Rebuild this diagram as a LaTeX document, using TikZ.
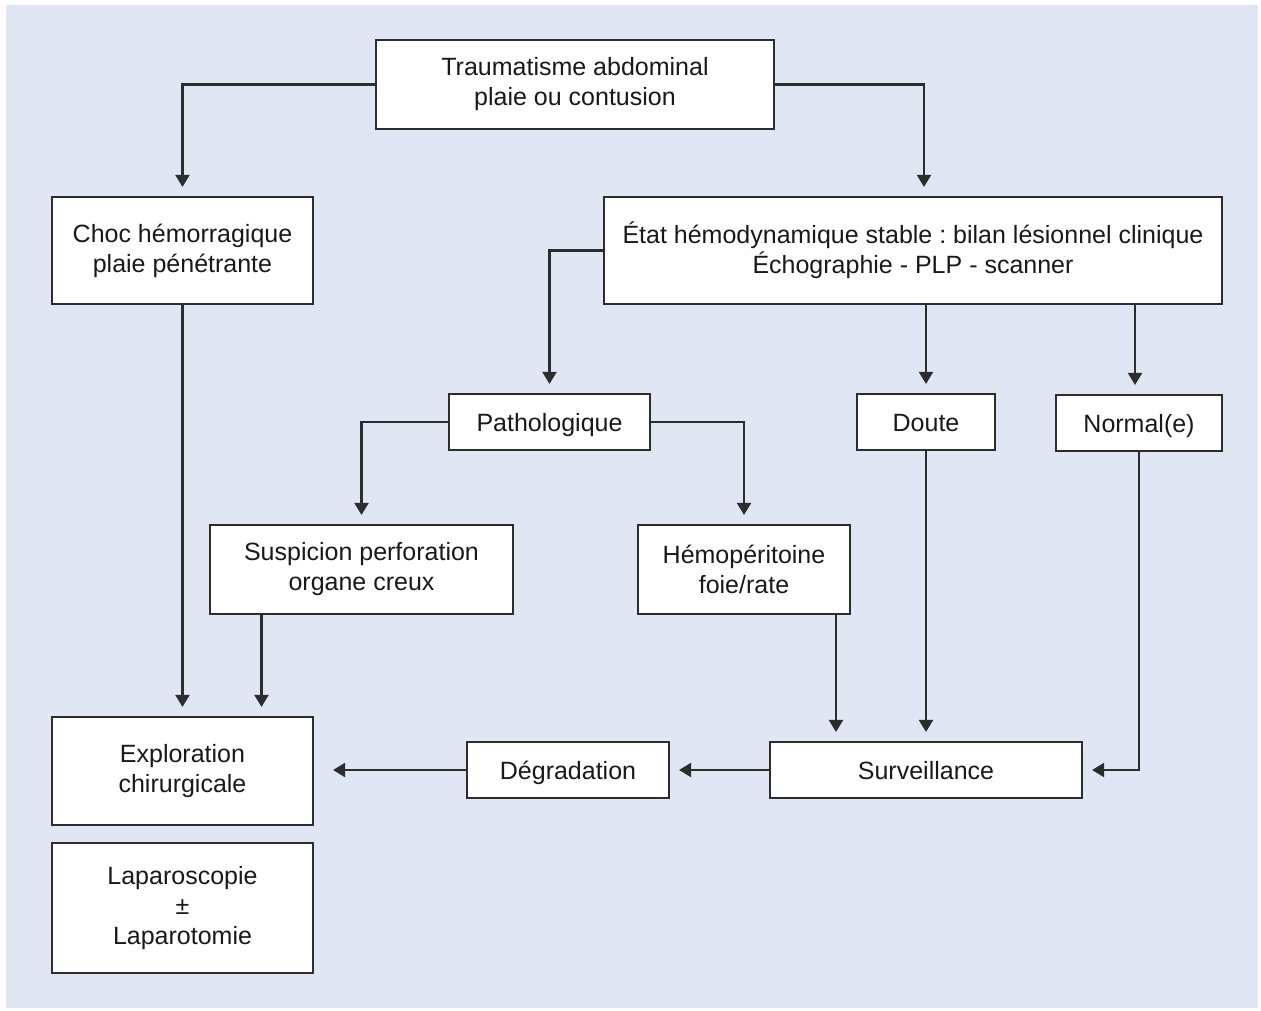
\documentclass[tikz,border=0pt]{standalone}
\usepackage{fontspec}
\setmainfont{Liberation Sans}
\usepackage{xcolor}
\usepackage{tikz}
\usetikzlibrary{arrows.meta}
\definecolor{panelblue}{RGB}{224,230,243}
\definecolor{linegray}{RGB}{45,45,45}
\tikzset{box/.style={draw=linegray, line width=2.1pt, fill=white, align=center, inner sep=0pt, text=black!90, font=\fontsize{25}{30}\selectfont}, sbox/.style={box, text height=18pt, text depth=0pt}, arr/.style={draw=linegray, line width=2.1pt, -{Triangle[width=14pt,length=12pt]}, shorten >=9pt}}
\frenchspacing

\begin{document}
\begin{tikzpicture}[x=1pt, y=-1pt]
\useasboundingbox (0, 0) rectangle (1261, 1010);
 \fill[panelblue] (6, 5) rectangle (1258, 1008);
 \node[box, minimum width=398pt, minimum height=89pt] (trauma) at (575, 84.5) {Traumatisme abdominal\\plaie ou contusion};
 \node[box, minimum width=261pt, minimum height=107pt] (choc) at (182.5, 250.5) {Choc hémorragique\\plaie pénétrante};
 \node[box, minimum width=618pt, minimum height=107pt] (etat) at (913, 250.5) {État hémodynamique stable : bilan lésionnel clinique\\Échographie - PLP - scanner};
 \node[sbox, minimum width=201pt, minimum height=56pt] (patho) at (549.5, 422) {Pathologique};
 \node[sbox, minimum width=138pt, minimum height=56pt] (doute) at (926, 422) {Doute};
 \node[sbox, minimum width=166pt, minimum height=56pt] (normal) at (1139, 423) {Normal(e)};
 \node[box, minimum width=303pt, minimum height=89pt] (susp) at (361.5, 569.5) {Suspicion perforation\\organe creux};
 \node[box, minimum width=212pt, minimum height=89pt] (hemo) at (744, 569.5) {Hémopéritoine\\foie/rate};
 \node[box, minimum width=261pt, minimum height=108pt] (explo) at (182.5, 771) {Exploration\\chirurgicale};
 \node[box, minimum width=261pt, minimum height=130pt] (lapa) at (182.5, 908) {Laparoscopie\\±\\Laparotomie};
 \node[sbox, minimum width=202pt, minimum height=56pt] (degr) at (568, 770) {Dégradation};
 \node[sbox, minimum width=312pt, minimum height=56pt] (surv) at (926, 770) {Surveillance};
  \draw[arr] (trauma.west) -| (choc.north);
  \draw[arr] (trauma.east) -| ([xshift=11pt]etat.north);
  \draw[arr] (choc.south) -- (explo.north);
  \draw[arr] ([xshift=-100pt]susp.south) -- ([xshift=-100pt]susp.south |- explo.north);
  \draw[arr] (etat.west) -| (patho.north);
  \draw[arr] (doute.north |- etat.south) -- (doute.north);
  \draw[arr] ([xshift=-4pt]normal.north |- etat.south) -- ([xshift=-4pt]normal.north);
  \draw[arr] (patho.west) -| (susp.north);
  \draw[arr] (patho.east) -| (hemo.north);
  \draw[arr] ([xshift=92pt]hemo.south) -- ([xshift=92pt]hemo.south |- surv.north);
  \draw[arr] (doute.south) -- (doute.south |- surv.north);
  \draw[arr] (normal.south) |- (surv.east);
  \draw[arr] (surv.west) -- (degr.east);
  \draw[arr, shorten >=19pt] (degr.west) -- (degr.west -| explo.east);
\end{tikzpicture}
\end{document}
